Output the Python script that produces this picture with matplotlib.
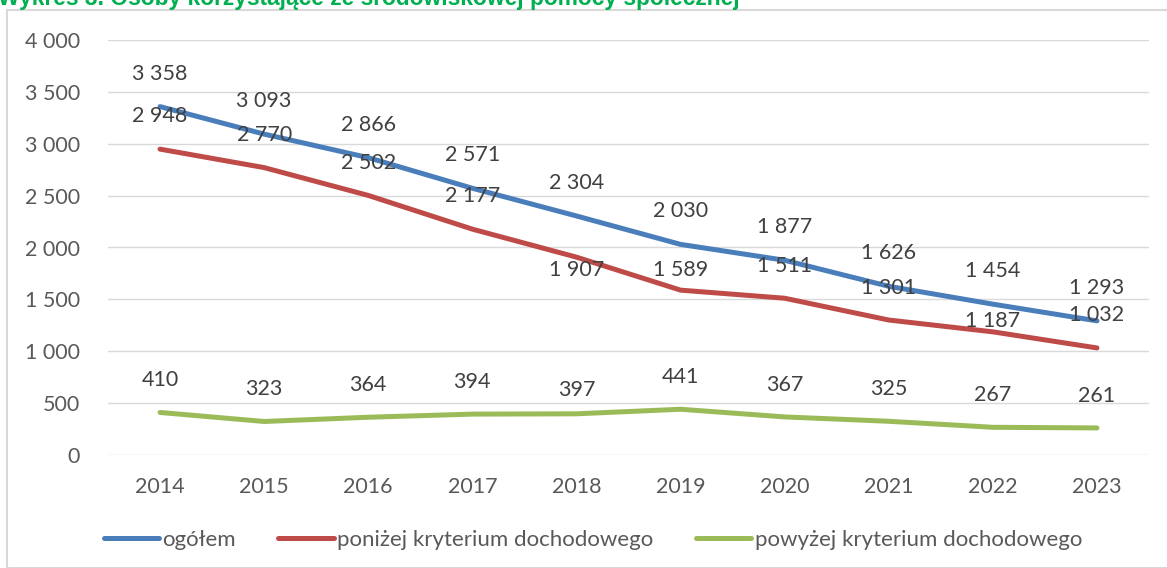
import numpy as np
import matplotlib.pyplot as plt
from matplotlib.patches import Rectangle
from matplotlib.ticker import FuncFormatter

years = ['2014', '2015', '2016', '2017', '2018', '2019', '2020', '2021', '2022', '2023']
ogolem = [3358, 3093, 2866, 2571, 2304, 2030, 1877, 1626, 1454, 1293]
ponizej = [2948, 2770, 2502, 2177, 1907, 1589, 1511, 1301, 1187, 1032]
powyzej = [410, 323, 364, 394, 397, 441, 367, 325, 267, 261]

names = ['ogółem', 'poniżej kryterium dochodowego', 'powyżej kryterium dochodowego']
colors = ['#4A7EBB', '#BE4B48', '#9BBB59']

# label offsets in pixels (up = positive), Excel labels were moved by hand in places
offs_blue = [33] * 10
offs_red = [33, 33, 32, 33, -13, 20, 32, 32, 11, 33]
offs_green = [32, 32, 32, 32, 24, 32, 32, 32, 32, 32]

plt.rcParams['font.family'] = ['Lato', 'DejaVu Sans']

fig = plt.figure(figsize=(11.67, 5.68), dpi=100)
ax = fig.add_axes([108 / 1167, 1 - 455 / 568, (1149 - 108) / 1167, (455 - 40) / 568])

x = np.arange(len(years))
series = [(ogolem, offs_blue), (ponizej, offs_red), (powyzej, offs_green)]
for (vals, offs), c, n in zip(series, colors, names):
    ax.plot(x, vals, color=c, lw=3.6, solid_capstyle='round', label=n, zorder=3)
    for xi, v, o in zip(x, vals, offs):
        lab = f'{v:,}'.replace(',', ' ')
        ax.annotate(lab, (xi, v), xytext=(0, o * 0.72), textcoords='offset points',
                    ha='center', va='center', fontsize=15.5, color='#404040', zorder=4)

ax.set_xlim(-0.5, 9.5)
ax.set_ylim(0, 4000)
ax.set_yticks(range(0, 4001, 500))
ax.yaxis.set_major_formatter(FuncFormatter(lambda v, p: f'{int(v):,}'.replace(',', ' ')))
ax.set_xticks(x)
ax.set_xticklabels(years)
ax.grid(axis='y', color='#D9D9D9', lw=1)
ax.set_axisbelow(True)
for s in ax.spines.values():
    s.set_visible(False)
ax.tick_params(length=0, labelsize=15.5, labelcolor='#595959')
ax.tick_params(axis='y', pad=20)
ax.tick_params(axis='x', pad=16)

fig.legend(loc='center', bbox_to_anchor=(0.508, 1 - 540 / 568), ncol=3, frameon=False,
           fontsize=16, handlelength=2.5, handletextpad=0.15, columnspacing=1.9,
           labelcolor='#595959')

fig.patches.append(Rectangle((7 / 1167, 0), 1.2, 1 - 10 / 568, transform=fig.transFigure,
                             fill=False, edgecolor='#D9D9D9', lw=1.5))

fig.text(740 / 1167, 1 - 5 / 568, 'Wykres 3. Osoby korzystające ze środowiskowej pomocy społecznej',
         ha='right', va='baseline', fontsize=16.4, fontweight='bold', color='#00B050',
         family=['Liberation Sans', 'DejaVu Sans'])

fig.savefig('out.png', dpi=100)
